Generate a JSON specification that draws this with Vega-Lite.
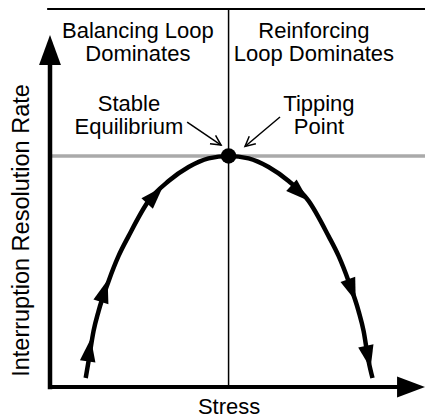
{
  "$schema": "https://vega.github.io/schema/vega-lite/v6.json",
  "width": 375,
  "height": 378,
  "autosize": {"type": "none"},
  "padding": {"left": 50, "top": 9, "right": 0, "bottom": 32},
  "background": "white",
  "config": {"view": {"stroke": null}, "font": "Liberation Sans"},
  "datasets": {
    "curve": [
      {"stress": 1.0, "rate": 0.25},
      {"stress": 1.08, "rate": 0.72},
      {"stress": 1.22, "rate": 1.56},
      {"stress": 1.36, "rate": 2.11},
      {"stress": 1.64, "rate": 2.94},
      {"stress": 1.92, "rate": 3.64},
      {"stress": 2.2, "rate": 4.19},
      {"stress": 2.76, "rate": 5.17},
      {"stress": 3.32, "rate": 5.72},
      {"stress": 3.88, "rate": 6.11},
      {"stress": 4.44, "rate": 6.35},
      {"stress": 5.0, "rate": 6.42},
      {"stress": 5.56, "rate": 6.35},
      {"stress": 6.12, "rate": 6.11},
      {"stress": 6.68, "rate": 5.72},
      {"stress": 7.24, "rate": 5.17},
      {"stress": 7.8, "rate": 4.19},
      {"stress": 8.08, "rate": 3.64},
      {"stress": 8.36, "rate": 2.94},
      {"stress": 8.64, "rate": 2.11},
      {"stress": 8.78, "rate": 1.56},
      {"stress": 8.92, "rate": 0.72},
      {"stress": 9.03, "rate": 0.25}
    ],
    "labels": [
      {"stress": 2.46, "rate": 9.69, "label": "Balancing Loop\nDominates"},
      {"stress": 7.39, "rate": 9.69, "label": "Reinforcing\nLoop Dominates"},
      {"stress": 2.21, "rate": 7.68, "label": "Stable\nEquilibrium"},
      {"stress": 7.53, "rate": 7.68, "label": "Tipping\nPoint"}
    ]
  },
  "encoding": {
    "x": {
      "field": "stress",
      "type": "quantitative",
      "scale": {"domain": [0, 10.5], "nice": false, "zero": false},
      "axis": {
        "domain": false, "ticks": false, "labels": false, "grid": false,
        "title": "Stress", "titleFont": "Liberation Sans", "titleFontSize": 22,
        "titleFontWeight": "normal", "titleColor": "black",
        "titleX": 178.6, "titleY": 26, "titleBaseline": "alphabetic", "titleAlign": "center"
      }
    },
    "y": {
      "field": "rate",
      "type": "quantitative",
      "scale": {"domain": [0, 10.5], "nice": false, "zero": false},
      "axis": {
        "domain": false, "ticks": false, "labels": false, "grid": false,
        "title": "Interruption Resolution Rate", "titleFont": "Liberation Sans", "titleFontSize": 23.5,
        "titleFontWeight": "normal", "titleColor": "black", "titleAngle": 270,
        "titleX": -21.5, "titleY": 221, "titleBaseline": "alphabetic", "titleAlign": "center"
      }
    }
  },
  "layer": [
    {
      "data": {"values": [{"stress": 0, "stress2": 10.5, "rate": 6.42}]},
      "mark": {"type": "rule", "stroke": "#aaaaaa", "strokeWidth": 3.5},
      "encoding": {"x2": {"field": "stress2"}}
    },
    {
      "data": {"values": [{"stress": 5, "rate": 0, "rate2": 10.5}]},
      "mark": {"type": "rule", "stroke": "black", "strokeWidth": 1.5},
      "encoding": {"y2": {"field": "rate2"}}
    },
    {
      "data": {"values": [{"stress": -0.08, "stress2": 10.5, "rate": 10.5}]},
      "mark": {"type": "rule", "stroke": "black", "strokeWidth": 1.8},
      "encoding": {"x2": {"field": "stress2"}}
    },
    {
      "data": {"values": [{"stress": 0, "rate": 0, "rate2": 8.95}]},
      "mark": {"type": "rule", "stroke": "black", "strokeWidth": 4.5, "strokeCap": "square"},
      "encoding": {"y2": {"field": "rate2"}}
    },
    {
      "data": {"values": [{"stress": 0, "stress2": 9.75, "rate": 0}]},
      "mark": {"type": "rule", "stroke": "black", "strokeWidth": 4, "strokeCap": "square"},
      "encoding": {"x2": {"field": "stress2"}}
    },
    {
      "data": {"values": [{"stress": 0, "rate": 9.36}]},
      "mark": {"type": "point", "shape": "M0,-1L-0.73,1L0.73,1Z", "size": 900, "filled": true, "fill": "black", "strokeWidth": 0, "opacity": 1, "angle": 0}
    },
    {
      "data": {"values": [{"stress": 10.11, "rate": 0}]},
      "mark": {"type": "point", "shape": "M0,-1L-0.75,1L0.75,1Z", "size": 784, "filled": true, "fill": "black", "strokeWidth": 0, "opacity": 1, "angle": 90}
    },
    {
      "data": {"name": "curve"},
      "mark": {"type": "line", "interpolate": "monotone", "stroke": "black", "strokeWidth": 4.5, "strokeCap": "butt"}
    },
    {
      "data": {"values": [{"stress": 1.1, "rate": 1.03}]},
      "mark": {"type": "point", "shape": "M0,-1L-0.68,1L0.68,1Z", "size": 529, "filled": true, "fill": "black", "strokeWidth": 0, "opacity": 1, "angle": 8}
    },
    {
      "data": {"values": [{"stress": 1.52, "rate": 2.67}]},
      "mark": {"type": "point", "shape": "M0,-1L-0.68,1L0.68,1Z", "size": 529, "filled": true, "fill": "black", "strokeWidth": 0, "opacity": 1, "angle": 17}
    },
    {
      "data": {"values": [{"stress": 2.94, "rate": 5.33}]},
      "mark": {"type": "point", "shape": "M0,-1L-0.68,1L0.68,1Z", "size": 529, "filled": true, "fill": "black", "strokeWidth": 0, "opacity": 1, "angle": 43}
    },
    {
      "data": {"values": [{"stress": 7.0, "rate": 5.39}]},
      "mark": {"type": "point", "shape": "M0,-1L-0.68,1L0.68,1Z", "size": 529, "filled": true, "fill": "black", "strokeWidth": 0, "opacity": 1, "angle": 132}
    },
    {
      "data": {"values": [{"stress": 8.45, "rate": 2.69}]},
      "mark": {"type": "point", "shape": "M0,-1L-0.68,1L0.68,1Z", "size": 529, "filled": true, "fill": "black", "strokeWidth": 0, "opacity": 1, "angle": 160}
    },
    {
      "data": {"values": [{"stress": 8.91, "rate": 0.83}]},
      "mark": {"type": "point", "shape": "M0,-1L-0.68,1L0.68,1Z", "size": 529, "filled": true, "fill": "black", "strokeWidth": 0, "opacity": 1, "angle": 168}
    },
    {
      "data": {"values": [{"stress": 5, "rate": 6.42}]},
      "mark": {"type": "point", "shape": "circle", "size": 240, "filled": true, "fill": "black", "strokeWidth": 0, "opacity": 1}
    },
    {
      "data": {"values": [{"stress": 3.84, "stress2": 4.79, "rate": 7.36, "rate2": 6.72}]},
      "mark": {"type": "rule", "stroke": "black", "strokeWidth": 1.5},
      "encoding": {"x2": {"field": "stress2"}, "y2": {"field": "rate2"}}
    },
    {
      "data": {"values": [{"stress": 6.44, "stress2": 5.46, "rate": 7.5, "rate2": 6.68}]},
      "mark": {"type": "rule", "stroke": "black", "strokeWidth": 1.5},
      "encoding": {"x2": {"field": "stress2"}, "y2": {"field": "rate2"}}
    },
    {
      "data": {"values": [{"stress": 4.79, "rate": 6.72}]},
      "mark": {"type": "point", "shape": "M-0.5,1L0,0L0.5,1", "size": 400, "filled": false, "stroke": "black", "strokeWidth": 1.5, "opacity": 1, "angle": 124}
    },
    {
      "data": {"values": [{"stress": 5.46, "rate": 6.68}]},
      "mark": {"type": "point", "shape": "M-0.5,1L0,0L0.5,1", "size": 400, "filled": false, "stroke": "black", "strokeWidth": 1.5, "opacity": 1, "angle": 229}
    },
    {
      "data": {"name": "labels"},
      "mark": {"type": "text", "font": "Liberation Sans", "fontSize": 22, "fill": "black", "align": "center", "baseline": "alphabetic", "lineBreak": "\n", "lineHeight": 23},
      "encoding": {"text": {"field": "label", "type": "nominal"}}
    }
  ]
}
